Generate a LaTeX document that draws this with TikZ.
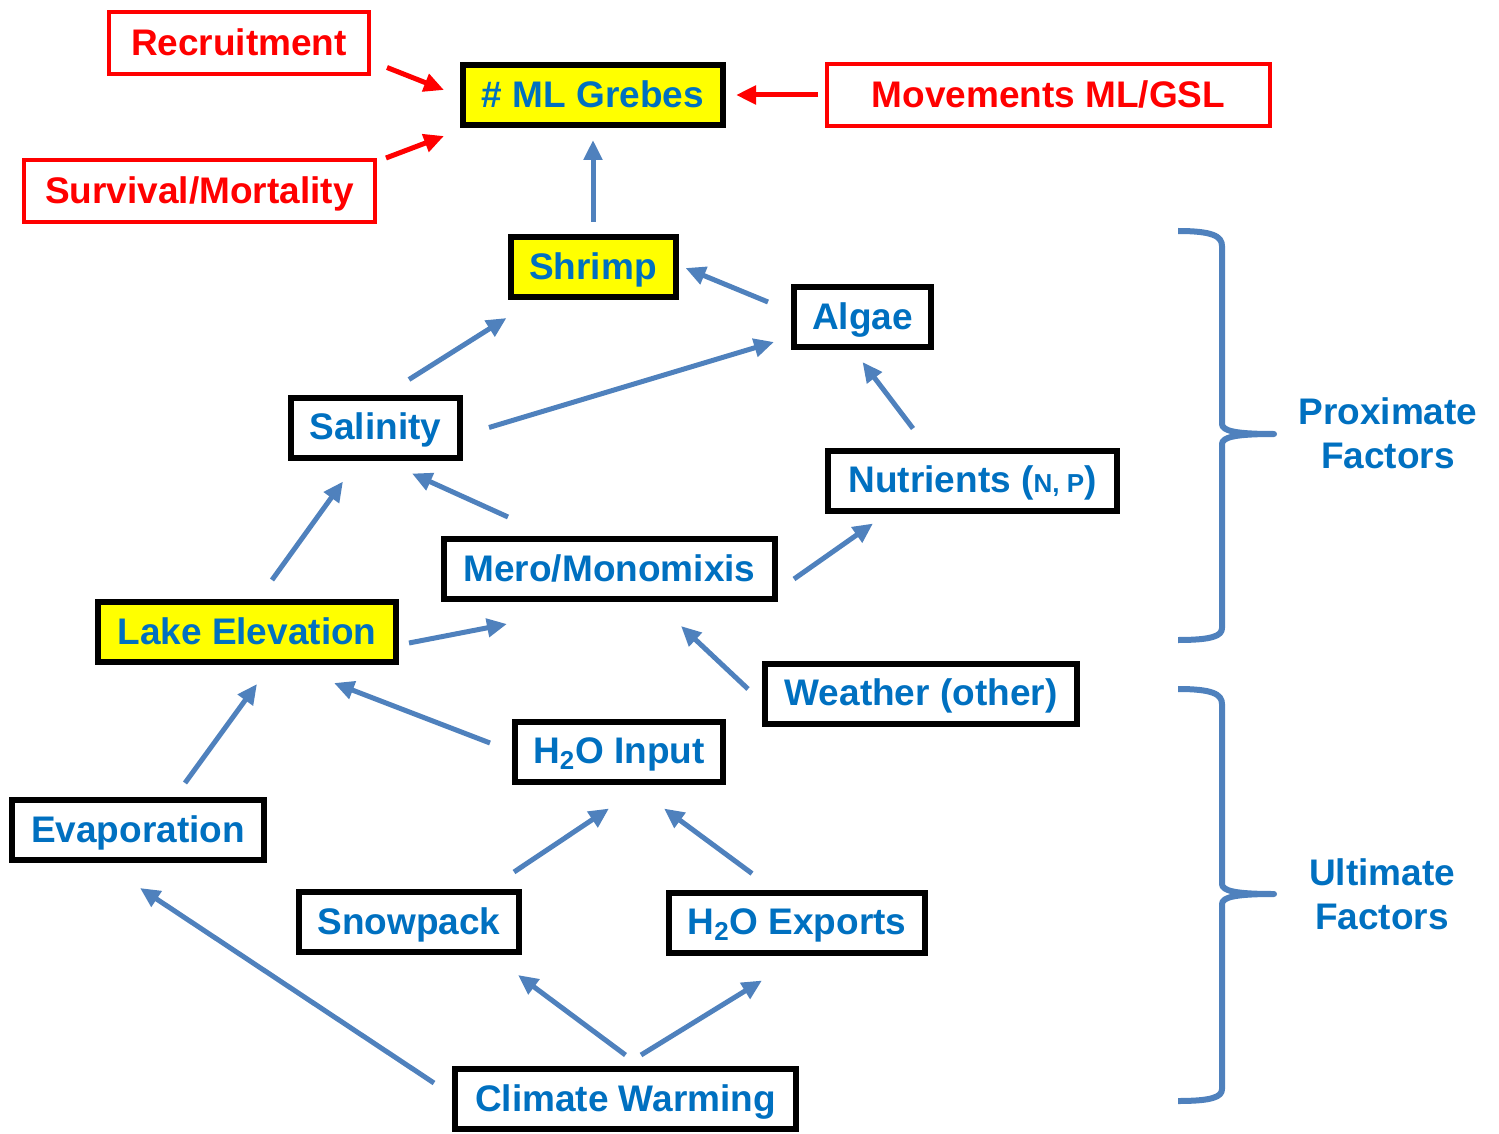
\documentclass[tikz,border=0pt]{standalone}
\usepackage{fontspec}
\setmainfont{Liberation Sans}
\usetikzlibrary{arrows.meta,calc}
\definecolor{textblue}{HTML}{0070C0}
\definecolor{arrowblue}{HTML}{4F81BD}
\definecolor{boxred}{HTML}{FF0000}
\definecolor{boxyellow}{HTML}{FFFF00}
\tikzset{
  factor/.style={draw=black, line width=3pt, minimum height=30pt, inner sep=0pt,
    text height=15pt, text depth=2.75pt,
    text=textblue, font=\fontsize{18.5}{22}\selectfont\bfseries},
  keyfactor/.style={factor, fill=boxyellow},
  outside/.style={factor, draw=boxred, line width=2pt, minimum height=31pt, text=boxred},
  link/.style={draw=arrowblue, line width=2.5pt, -{Triangle[length=10pt,width=9pt]}},
  redlink/.style={link, draw=boxred},
  factorbrace/.style={draw=arrowblue, line width=3pt, line join=round},
  bracelabel/.style={text=textblue, align=center, font=\fontsize{18.5}{22}\selectfont\bfseries}
}
\begin{document}
\begin{tikzpicture}[x=0.5pt, y=-0.5pt]
    \useasboundingbox (0,0) rectangle (1499,1134);
    % outside influences
    \node[outside, minimum width=130pt] (recruit) at (239,43.5) {Recruitment};
    \node[outside, minimum width=175.5pt] (survival) at (199.5,191) {Survival/Mortality};
    \node[outside, minimum width=221.5pt] (moves) at (1048.5,95) {Movements ML/GSL};
    % proximate factors
    \node[keyfactor, minimum width=130pt] (grebes) at (593,95) {\# ML Grebes};
    \node[keyfactor, minimum width=82.5pt] (shrimp) at (593,267) {Shrimp};
    \node[factor, minimum width=68.5pt] (algae) at (862.5,317) {Algae};
    \node[factor, minimum width=84.5pt] (salinity) at (375.5,427.5) {Salinity};
    \node[factor, minimum width=144.5pt] (nutrients) at (972.5,480.5)
        {Nutrients ({\fontsize{13}{15}\selectfont N, P})};
    \node[factor, minimum width=165.5pt] (mero) at (609.5,569) {Mero/Monomixis};
    \node[keyfactor, minimum width=149pt] (lake) at (247,632) {Lake Elevation};
    % ultimate factors
    \node[factor, minimum width=156pt] (weather) at (921,693.5) {Weather (other)};
    \node[factor, minimum width=104pt] (input) at (619,751.5) {H\textsubscript{2}O Input};
    \node[factor, minimum width=126pt] (evap) at (138,830) {Evaporation};
    \node[factor, minimum width=110pt] (snow) at (409,922) {Snowpack};
    \node[factor, minimum width=128pt] (exports) at (797,922.5) {H\textsubscript{2}O Exports};
    \node[factor, minimum width=170.5pt] (climate) at (625.5,1099) {Climate Warming};
    \node[bracelabel] (proximate) at (1388,433) {Proximate\\Factors};
    \node[bracelabel] (ultimate) at (1382,894) {Ultimate\\Factors};
    % red arrows
    \draw[redlink] ($(recruit.south east)+(16,-9)$) -- ($(grebes.west)+(-16,-5)$);
    \draw[redlink] ($(survival.north east)+(9,0)$) -- ($(grebes.south west)+(-16,8)$);
    \draw[redlink] ($(moves.west)+(-7,0)$) -- ($(grebes.east)+(10,0)$);
    % blue arrows
    \draw[link] ($(shrimp.north)+(0,-12)$) -- ($(grebes.south)+(0,12)$);
    \draw[link] ($(algae.west)+(-23,-15)$) -- ($(shrimp.east)+(7,1)$);
    \draw[link] ($(salinity.north)+(33.5,-15)$) -- ($(shrimp.south west)+(-1,18)$);
    \draw[link] ($(salinity.east)+(26,0)$) -- ($(algae.west)+(-17,25)$);
    \draw[link] ($(nutrients.north west)+(88,-19)$) -- ($(algae.south)+(0,12)$);
    \draw[link] ($(mero.north west)+(67,-19)$) -- ($(salinity.south)+(36.5,13)$);
    \draw[link] ($(mero.east)+(16,10)$) -- ($(nutrients.south west)+(48,10)$);
    \draw[link] ($(lake.north)+(25,-19)$) -- ($(salinity.south)+(-32.5,21)$);
    \draw[link] ($(lake.east)+(10,11)$) -- ($(mero.south west)+(66,22)$);
    \draw[link] ($(weather.west)+(-14,-4.5)$) -- ($(mero.south)+(71.5,24)$);
    \draw[link] ($(input.west)+(-22,-8.5)$) -- ($(lake.south)+(87,18)$);
    \draw[link] ($(evap.north)+(47,-14)$) -- ($(lake.south)+(10,19)$);
    \draw[link] ($(snow.north east)+(-8,-17)$) -- ($(input.south)+(-10,24)$);
    \draw[link] ($(exports.north)+(-45,-16)$) -- ($(input.south)+(45,24)$);
    \draw[link] ($(climate.west)+(-18,-16)$) -- ($(evap.south)+(2,25)$);
    \draw[link] ($(climate.north)+(0,-11)$) -- ($(snow.south east)+(-4,20)$);
    \draw[link] ($(climate.north)+(15.5,-11)$) -- ($(exports.south)+(-35,25)$);
    % braces
    \draw[factorbrace] (1178,231) .. controls (1212,231) and (1222,236) .. (1222,246)
        -- (1222,424) .. controls (1222,431) and (1236,434) .. (1274,434)
        .. controls (1236,434) and (1222,437) .. (1222,444)
        -- (1222,628) .. controls (1222,636) and (1212,640) .. (1178,640);
    \draw[factorbrace] (1178,689) .. controls (1212,689) and (1222,694) .. (1222,704)
        -- (1222,884) .. controls (1222,891) and (1236,894) .. (1274,894)
        .. controls (1236,894) and (1222,897) .. (1222,904)
        -- (1222,1089) .. controls (1222,1097) and (1212,1101) .. (1178,1101);
\end{tikzpicture}
\end{document}
